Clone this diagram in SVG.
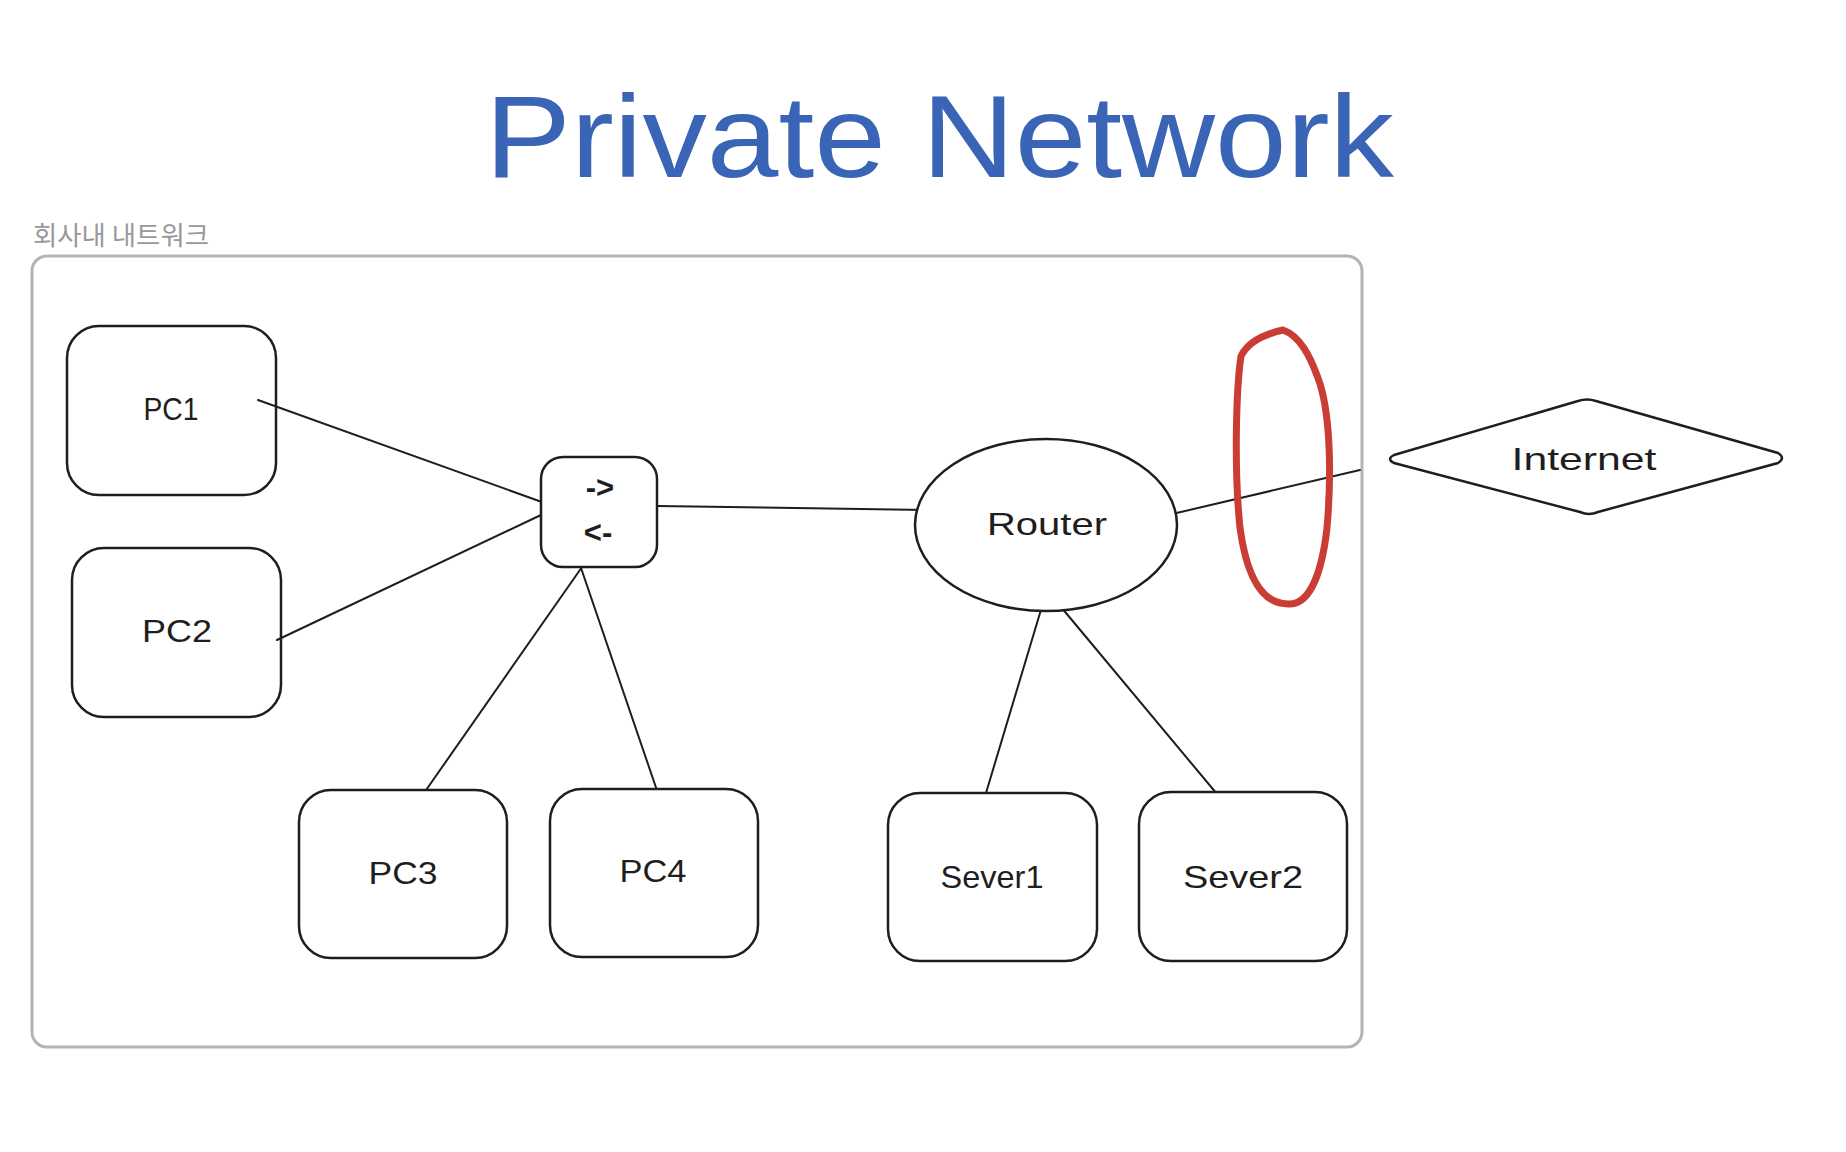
<svg xmlns="http://www.w3.org/2000/svg" width="1846" height="1152" viewBox="0 0 1846 1152">
  <style>
    .node { fill: #ffffff; stroke: #1e1e1e; stroke-width: 2.5; }
    .conn { fill: none; stroke: #1e1e1e; stroke-width: 2; stroke-linecap: round; }
    .lbl { font-family: "Liberation Sans", Arial, sans-serif; font-size: 32px; fill: #1e1e1e; text-anchor: middle; }
    .arrowtxt { font-family: "Liberation Sans", Arial, sans-serif; font-size: 31px; font-weight: bold; fill: #1e1e1e; text-anchor: middle; }
  </style>
  <rect x="0" y="0" width="1846" height="1152" fill="#ffffff"/>

  <g id="title">
    <text x="485" y="177" font-family="'Liberation Sans', Arial, sans-serif" font-size="117" fill="#3a64b5" textLength="909" lengthAdjust="spacingAndGlyphs">Private Network</text>
  </g>

  <g id="group-private">
    <text x="33" y="245" font-family="'Noto Sans CJK KR', 'Noto Sans', sans-serif" font-size="26" fill="#999999" textLength="176" lengthAdjust="spacingAndGlyphs">회사내 내트워크</text>
    <rect x="32" y="256" width="1330" height="791" rx="15" ry="15" fill="none" stroke="#b4b4b4" stroke-width="3"/>
  </g>

  <g id="connectors">
    <line class="conn" x1="258" y1="400" x2="553" y2="506"/>
    <line class="conn" x1="277" y1="640" x2="541" y2="515"/>
    <line class="conn" x1="657" y1="506" x2="927" y2="510" stroke-width="2.5"/>
    <line class="conn" x1="582" y1="567" x2="417" y2="803"/>
    <line class="conn" x1="580" y1="565" x2="664" y2="811"/>
    <line class="conn" x1="1046" y1="593" x2="986" y2="793"/>
    <line class="conn" x1="1061" y1="607" x2="1222" y2="800"/>
    <line class="conn" x1="1168" y1="515" x2="1360" y2="470"/>
  </g>

  <g id="pc1">
    <rect class="node" x="67" y="326" width="209" height="169" rx="32" ry="32" fill-opacity="0"/>
    <text class="lbl" x="171" y="420" textLength="55" lengthAdjust="spacingAndGlyphs">PC1</text>
  </g>
  <g id="pc2">
    <rect class="node" x="72" y="548" width="209" height="169" rx="32" ry="32" fill-opacity="0"/>
    <text class="lbl" x="177" y="642" textLength="70" lengthAdjust="spacingAndGlyphs">PC2</text>
  </g>
  <g id="pc3">
    <rect class="node" x="299" y="790" width="208" height="168" rx="32" ry="32"/>
    <text class="lbl" x="403" y="884" textLength="69" lengthAdjust="spacingAndGlyphs">PC3</text>
  </g>
  <g id="pc4">
    <rect class="node" x="550" y="789" width="208" height="168" rx="32" ry="32"/>
    <text class="lbl" x="653" y="882" textLength="67" lengthAdjust="spacingAndGlyphs">PC4</text>
  </g>
  <g id="switch">
    <rect class="node" x="541" y="457" width="116" height="110" rx="22" ry="22"/>
    <text class="arrowtxt" x="600" y="498">-&gt;</text>
    <text class="arrowtxt" x="598" y="543">&lt;-</text>
  </g>
  <g id="router">
    <ellipse class="node" cx="1046" cy="525" rx="131" ry="86"/>
    <text class="lbl" x="1047" y="535" textLength="120" lengthAdjust="spacingAndGlyphs">Router</text>
  </g>
  <g id="sever1">
    <rect class="node" x="888" y="793" width="209" height="168" rx="32" ry="32"/>
    <text class="lbl" x="992" y="888" textLength="103" lengthAdjust="spacingAndGlyphs">Sever1</text>
  </g>
  <g id="sever2">
    <rect class="node" x="1139" y="792" width="208" height="169" rx="32" ry="32"/>
    <text class="lbl" x="1243" y="888" textLength="120" lengthAdjust="spacingAndGlyphs">Sever2</text>
  </g>
  <g id="internet">
    <path class="node" d="M 1394 455 L 1578 401 Q 1587 398 1596 401 L 1778 453 Q 1786 458 1778 463 L 1598 512 Q 1589 516 1580 512 L 1394 463 Q 1386 459 1394 455 Z"/>
    <text class="lbl" x="1584" y="470" textLength="145" lengthAdjust="spacingAndGlyphs">Internet</text>
  </g>
  <g id="firewall-mark">
    <path d="M 1283 330 C 1265 334, 1248 342, 1241 356 C 1236 390, 1234 470, 1240 528 C 1246 572, 1260 604, 1288 604 C 1310 605, 1322 572, 1327 528 C 1332 470, 1330 410, 1318 378 C 1310 356, 1300 336, 1283 330 Z" fill="none" stroke="#c93d34" stroke-width="7" stroke-linejoin="round"/>
  </g>
</svg>
